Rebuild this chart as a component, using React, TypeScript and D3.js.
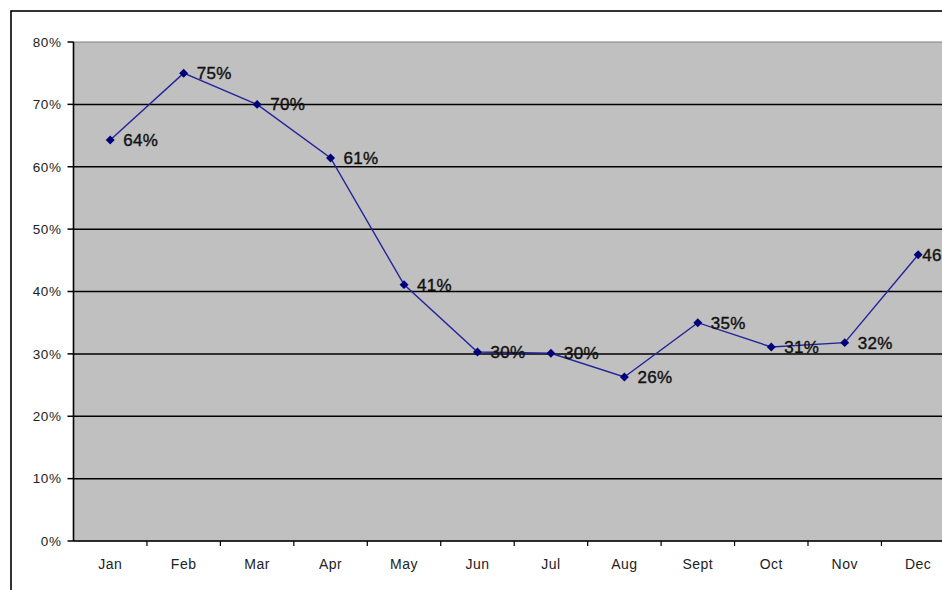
import React from "react";
import * as d3 from "d3";

const months = ["Jan", "Feb", "Mar", "Apr", "May", "Jun", "Jul", "Aug", "Sept", "Oct", "Nov", "Dec"];
const values = [0.643, 0.75, 0.70, 0.614, 0.411, 0.303, 0.301, 0.263, 0.35, 0.311, 0.318, 0.459];
const labels = ["64%", "75%", "70%", "61%", "41%", "30%", "30%", "26%", "35%", "31%", "32%", "46%"];
const yTicks = [0, 0.1, 0.2, 0.3, 0.4, 0.5, 0.6, 0.7, 0.8];

export default function App() {
  const W = 942, H = 590;
  const left = 73.5, top = 42, bottom = 541;
  const band = 73.45;
  const right = left + band * months.length;
  const x = d3.scaleBand<string>().domain(months).range([left, right]);
  const y = d3.scaleLinear().domain([0, 0.8]).range([bottom, top]);
  const line = d3.line<number>().x((_, i) => x(months[i])! + x.bandwidth() / 2).y((d) => y(d));
  const marker = d3.symbol().type(d3.symbolSquare).size(40)()!;
  const fmt = d3.format(".0%");
  return (
    <svg width={W} height={H} style={{ position: "absolute", left: 0, top: 0, background: "#fff" }}
      fontFamily="'Liberation Sans', Arial, sans-serif">
      <rect x={11} y={11} width={W + 20} height={H + 20} fill="#fff" stroke="#000" strokeWidth={1.6} />
      <rect x={left} y={top} width={right - left} height={bottom - top} fill="#c0c0c0" stroke="#808080" strokeWidth={1} />
      {yTicks.filter((t) => t > 0 && t < 0.8).map((t) => (
        <line key={t} x1={left} x2={right} y1={y(t)} y2={y(t)} stroke="#000" strokeWidth={1.5} />
      ))}
      <line x1={left} x2={left} y1={top} y2={bottom} stroke="#000" strokeWidth={1.6} />
      <line x1={left} x2={right} y1={bottom} y2={bottom} stroke="#000" strokeWidth={1.6} />
      {yTicks.map((t) => (
        <g key={t}>
          <line x1={left - 6} x2={left} y1={y(t)} y2={y(t)} stroke="#000" strokeWidth={1.5} />
          <text x={left - 12} y={y(t)} dy="0.36em" textAnchor="end" fontSize={13.5} fill="#222" letterSpacing={0.6}>
            {fmt(t)}
          </text>
        </g>
      ))}
      {months.map((m, i) => (
        <g key={m}>
          {i > 0 && <line x1={x(m)!} x2={x(m)!} y1={bottom} y2={bottom + 5} stroke="#000" strokeWidth={1.2} />}
          <text x={x(m)! + x.bandwidth() / 2} y={564} dy="0.36em" textAnchor="middle" fontSize={14} fill="#222" letterSpacing={0.5}>
            {m}
          </text>
        </g>
      ))}
      <path d={line(values)!} fill="none" stroke="#23239a" strokeWidth={1.4} />
      {values.map((v, i) => {
        const cx = x(months[i])! + x.bandwidth() / 2;
        const cy = y(v);
        const off = i === values.length - 1 ? 4 : 13;
        return (
          <g key={i}>
            <path d={marker} transform={`translate(${cx},${cy}) rotate(45)`} fill="#00007a" />
            <text x={cx + off} y={cy} dy="0.36em" fontSize={17} fill="#111" stroke="#111" strokeWidth={0.4} letterSpacing={0.3}>
              {labels[i]}
            </text>
          </g>
        );
      })}
    </svg>
  );
}
